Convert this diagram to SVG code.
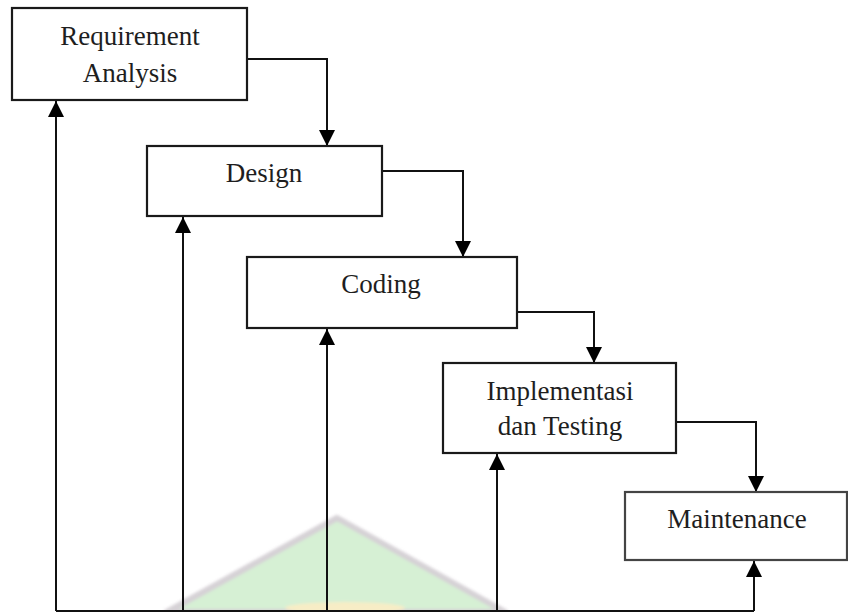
<svg xmlns="http://www.w3.org/2000/svg" width="848" height="612" viewBox="0 0 848 612">
  <style>
    .box { fill: #ffffff; stroke: #1a1a1a; stroke-width: 2.2; }
    .lbl { font-family: "Liberation Serif", "Times New Roman", serif; font-size: 27px; fill: #1e1e1e; text-anchor: middle; }
    .wire { fill: none; stroke: #111111; stroke-width: 2; }
  </style>
  <defs>
    <!-- downward-pointing head, tip on the end point -->
    <marker id="head" viewBox="0 0 16 16" refX="8" refY="16" markerWidth="16" markerHeight="16" markerUnits="userSpaceOnUse" orient="0">
      <path d="M0,0 L16,0 L8,16 Z" fill="#000000"/>
    </marker>
    <!-- upward-pointing head, tip on the end point -->
    <marker id="headUp" viewBox="0 0 16 16" refX="8" refY="0" markerWidth="16" markerHeight="16" markerUnits="userSpaceOnUse" orient="0">
      <path d="M8,0 L16,16 L0,16 Z" fill="#000000"/>
    </marker>
    <filter id="soft" x="-20%" y="-20%" width="140%" height="140%">
      <feGaussianBlur stdDeviation="1.5"/>
    </filter>
  </defs>

  <rect width="848" height="612" fill="#ffffff"/>

  <!-- faint emblem behind the feedback lines -->
  <g id="emblem" filter="url(#soft)" opacity="0.9">
    <path d="M167,612 L337,518 L505,612 Z" fill="#d2efd0" stroke="#d2cdd2" stroke-width="6" stroke-linejoin="round"/>
    <ellipse cx="345" cy="608" rx="60" ry="6" fill="#f7ecc0"/>
  </g>

  <g id="connectors">
    <!-- forward flow -->
    <path class="wire" d="M247,59 H327 V146" marker-end="url(#head)"/>
    <path class="wire" d="M382,171 H463 V257" marker-end="url(#head)"/>
    <path class="wire" d="M517,312 H594 V363" marker-end="url(#head)"/>
    <path class="wire" d="M676,422 H756 V492" marker-end="url(#head)"/>
    <!-- feedback bus -->
    <path class="wire" d="M56,611 H754"/>
    <path class="wire" d="M56,611 V101" marker-end="url(#headUp)"/>
    <path class="wire" d="M183,611 V217" marker-end="url(#headUp)"/>
    <path class="wire" d="M327,611 V329" marker-end="url(#headUp)"/>
    <path class="wire" d="M497,611 V454" marker-end="url(#headUp)"/>
    <path class="wire" d="M754,611 V561" marker-end="url(#headUp)"/>
  </g>

  <g id="requirement">
    <rect class="box" x="12" y="8" width="235" height="92"/>
    <text class="lbl" x="130" y="45">Requirement</text>
    <text class="lbl" x="130" y="82">Analysis</text>
  </g>

  <g id="design">
    <rect class="box" x="147" y="146" width="235" height="70"/>
    <text class="lbl" x="264" y="182">Design</text>
  </g>

  <g id="coding">
    <rect class="box" x="247" y="257" width="270" height="71"/>
    <text class="lbl" x="381" y="293">Coding</text>
  </g>

  <g id="implementasi">
    <rect class="box" x="443" y="363" width="233" height="90"/>
    <text class="lbl" x="560" y="400">Implementasi</text>
    <text class="lbl" x="560" y="435">dan Testing</text>
  </g>

  <g id="maintenance">
    <rect class="box" x="625" y="492" width="222" height="68" style="stroke:#444444"/>
    <text class="lbl" x="737" y="528">Maintenance</text>
  </g>
</svg>
